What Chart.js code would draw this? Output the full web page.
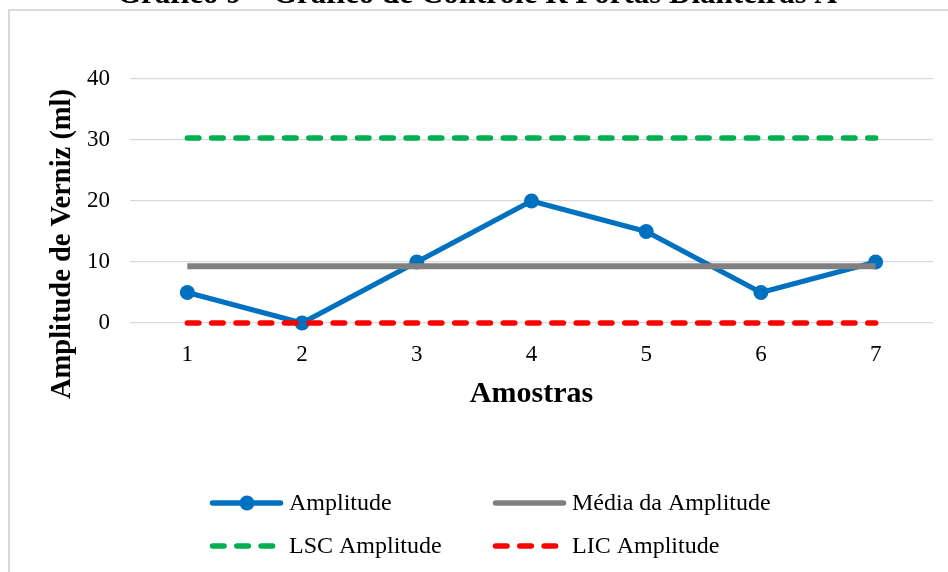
<!DOCTYPE html>
<html>
<head>
<meta charset="utf-8">
<script src="https://cdn.jsdelivr.net/npm/chart.js@4/dist/chart.umd.min.js"></script>
<style>
  html, body { margin: 0; padding: 0; background: #fff; overflow: hidden; }
  canvas { display: block; }
</style>
</head>
<body>
<canvas id="c" width="948" height="572"></canvas>
<script>
// Control chart data (R chart) for the front doors, sample-by-sample range
const categories = ['1', '2', '3', '4', '5', '6', '7'];
const amplitude = [5, 0, 10, 20, 15, 5, 10];
const mediaAmplitude = [9.29, 9.29, 9.29, 9.29, 9.29, 9.29, 9.29];
const lscAmplitude = [30.34, 30.34, 30.34, 30.34, 30.34, 30.34, 30.34];
const licAmplitude = [0, 0, 0, 0, 0, 0, 0];
const seriesLabels = ['Amplitude', 'Média da Amplitude', 'LSC Amplitude', 'LIC Amplitude'];

const chartTitle = 'Gráfico 9 – Gráfico de Controle R Portas Dianteiras A';
const xTitle = 'Amostras';
const yTitle = 'Amplitude de Verniz (ml)';

const SERIF = '"Liberation Serif", "Times New Roman", serif';
const TEXT = '#000000';

// Frame, page title, rotated y title and a two-column legend
const decorations = {
  id: 'decorations',
  beforeDraw(chart) {
    const ctx = chart.ctx;
    ctx.save();
    ctx.strokeStyle = '#d9d9d9';
    ctx.lineWidth = 2;
    ctx.beginPath();
    ctx.moveTo(9, chart.height + 5);
    ctx.lineTo(9, 10);
    ctx.lineTo(chart.width + 5, 10);
    ctx.stroke();
    ctx.restore();
  },
  afterDraw(chart) {
    const ctx = chart.ctx;
    ctx.save();
    // title (partly above the page edge)
    ctx.fillStyle = TEXT;
    ctx.font = 'bold 31px ' + SERIF;
    ctx.textAlign = 'center';
    ctx.textBaseline = 'alphabetic';
    ctx.fillText(chartTitle, 477, 3);

    // y axis title
    ctx.save();
    ctx.translate(63, 244);
    ctx.rotate(-Math.PI / 2);
    ctx.font = 'bold 28.5px ' + SERIF;
    ctx.textBaseline = 'middle';
    ctx.fillText(yTitle, 0, 0);
    ctx.restore();

    // legend
    const slots = [[210, 503], [493, 503], [210, 546], [493, 546]];
    chart.data.datasets.forEach((ds, i) => {
      const [x, y] = slots[i];
      ctx.save();
      ctx.strokeStyle = ds.borderColor;
      ctx.lineWidth = 5.5;
      ctx.lineCap = 'round';
      ctx.setLineDash(ds.borderDash || []);
      ctx.beginPath();
      ctx.moveTo(x + 2.5, y);
      ctx.lineTo(x + 70.5, y);
      ctx.stroke();
      ctx.setLineDash([]);
      if (ds.pointRadius > 0) {
        ctx.fillStyle = ds.pointBackgroundColor;
        ctx.beginPath();
        ctx.arc(x + 37, y, ds.pointRadius, 0, Math.PI * 2);
        ctx.fill();
      }
      ctx.fillStyle = TEXT;
      ctx.font = '24px ' + SERIF;
      ctx.textAlign = 'left';
      ctx.textBaseline = 'middle';
      ctx.fillText(ds.label, x + 79, y + 1);
      ctx.restore();
    });
    ctx.restore();
  }
};

new Chart(document.getElementById('c'), {
  type: 'line',
  data: {
    labels: categories,
    datasets: [
      {
        label: seriesLabels[0], data: amplitude,
        borderColor: '#0070C0', backgroundColor: '#0070C0',
        borderWidth: 5, borderJoinStyle: 'round', borderCapStyle: 'round',
        pointRadius: 7.5, pointHoverRadius: 7.5, pointBorderWidth: 0,
        pointBackgroundColor: '#0070C0', order: 4, clip: false
      },
      {
        label: seriesLabels[1], data: mediaAmplitude,
        borderColor: '#808080', backgroundColor: '#808080',
        borderWidth: 6, borderCapStyle: 'butt', pointRadius: 0, order: 3, clip: false
      },
      {
        label: seriesLabels[2], data: lscAmplitude,
        borderColor: '#00B050', backgroundColor: '#00B050',
        borderWidth: 5.5, borderCapStyle: 'round', borderDash: [11.5, 12.8],
        pointRadius: 0, order: 2, clip: false
      },
      {
        label: seriesLabels[3], data: licAmplitude,
        borderColor: '#FF0000', backgroundColor: '#FF0000',
        borderWidth: 5.5, borderCapStyle: 'round', borderDash: [11.5, 12.8],
        pointRadius: 0, order: 1, clip: false
      }
    ]
  },
  options: {
    responsive: false,
    animation: false,
    devicePixelRatio: 1,
    layout: { padding: { left: 0, top: 79, right: 15, bottom: 152 } },
    plugins: {
      legend: { display: false },
      title: { display: false },
      tooltip: { enabled: false }
    },
    elements: { line: { tension: 0 } },
    scales: {
      x: {
        offset: true,
        grid: { display: false, drawTicks: false },
        border: { display: false },
        ticks: { color: TEXT, padding: 18, font: { family: SERIF, size: 23 } },
        title: {
          display: true, text: xTitle, color: TEXT,
          font: { family: SERIF, size: 30, weight: 'bold' },
          padding: { top: 0, bottom: 8 }
        },
        afterFit(scale) { scale.height = 97; }
      },
      y: {
        min: 0, max: 40,
        grid: { color: '#d9d9d9', lineWidth: 1.2, drawTicks: false },
        border: { display: false },
        ticks: { stepSize: 10, color: TEXT, padding: 20, font: { family: SERIF, size: 23 } },
        afterFit(scale) { scale.width = 130; }
      }
    }
  },
  plugins: [decorations]
});
</script>
</body>
</html>
